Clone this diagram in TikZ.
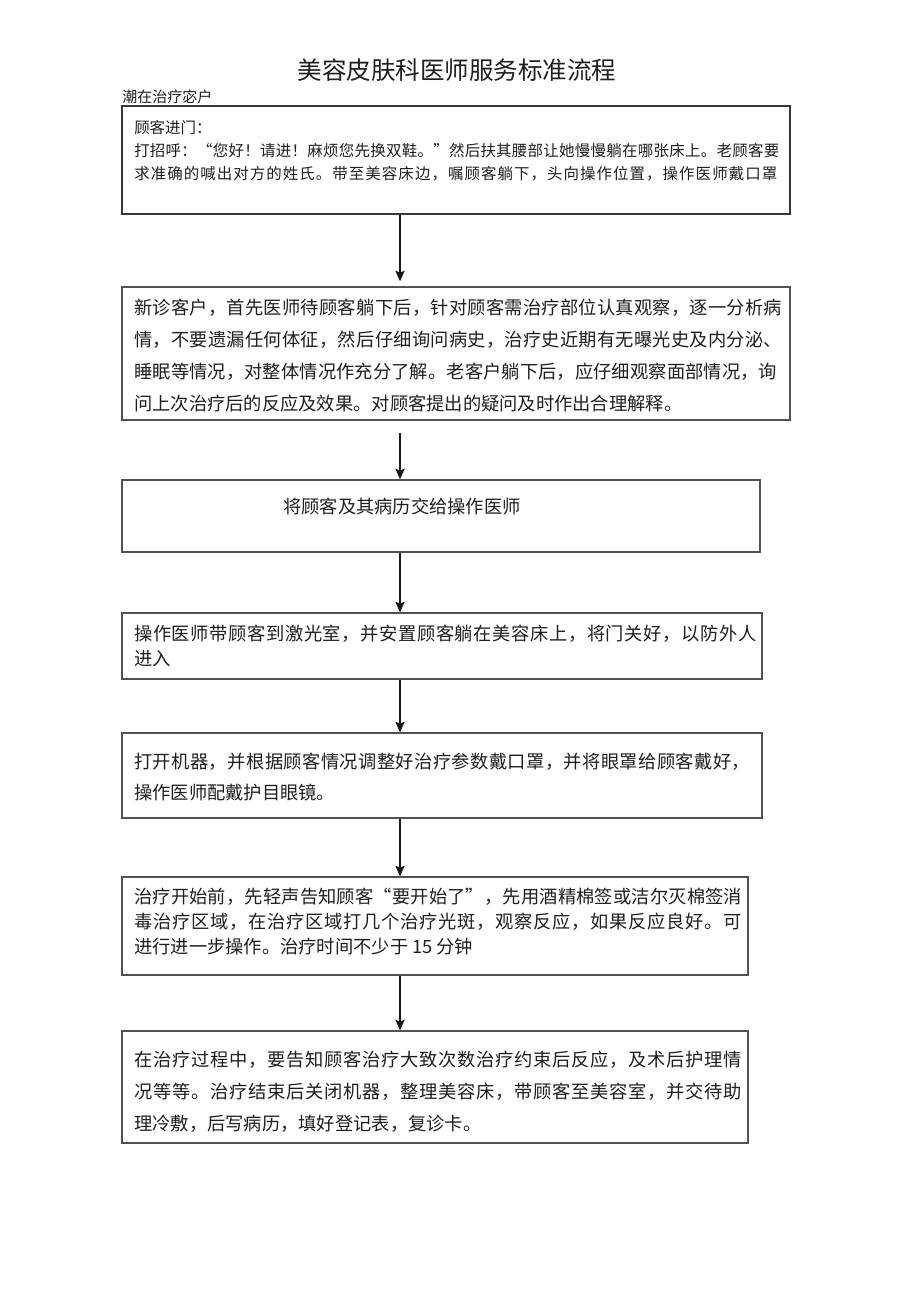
\documentclass[tikz,border=0pt]{standalone}
\usepackage{fontspec}
\newfontfamily\cjk{Noto Sans CJK SC}
\usetikzlibrary{arrows.meta,fit,calc}
\makeatletter
\def\jl@end{\jl@end@}
\def\jl@loop#1#2{#1\ifx\jl@end#2\else\hskip 0pt plus 1fil\relax\expandafter\jl@loop\expandafter#2\fi}
\newcommand\jline[2]{\hbox to #1{\jl@loop#2\jl@end}}
\makeatother
\tikzset{
  box/.style={draw=black!68, line width=1pt, inner sep=0pt},
  boxA/.style={draw=black!78, line width=1.4pt, inner sep=0pt},
  txt/.style={anchor=base west, inner sep=0pt, text=black!88},
  body/.style={font=\cjk\fontsize{13.7pt}{16pt}\selectfont},
  smallbody/.style={font=\cjk\fontsize{11.6pt}{14pt}\selectfont},
  arr/.style={-{Stealth[length=8pt,width=7pt,inset=1.5pt]}, line width=1pt, draw=black!90},
}
\begin{document}
\begin{tikzpicture}[x=0.75pt,y=-0.75pt]
\useasboundingbox (0,0) rectangle (920,1301);
\fill[white] (0,0) rectangle (920,1301);
\coordinate (ax) at (400,0);

% title and label
\node[anchor=base, inner sep=0pt, text=black!88, font=\cjk\fontsize{18.4pt}{20pt}\selectfont] (title) at (457,79.3) {美容皮肤科医师服务标准流程};
\node[txt, font=\cjk\fontsize{11.25pt}{13pt}\selectfont] (label) at (122,102.7) {潮在治疗宓户};

% boxes
\node[boxA, fit={(122,106) (790,214)}] (b1) {};
\node[box, fit={(122,287) (790,420)}] (b2) {};
\node[box, fit={(122,480) (760,552)}] (b3) {};
\node[box, fit={(122,613) (762,679)}] (b4) {};
\node[box, fit={(122,733) (762,818)}] (b5) {};
\node[box, fit={(122,877) (748,975)}] (b6) {};
\node[box, fit={(122,1031) (748,1143)}] (b7) {};

% box 1 text
\node[txt, smallbody] (t1a) at (134,133.1) {顾客进门：};
\node[txt, smallbody] (t1b) at (134,156.1) {\jline{483.75pt}{打招呼：“您好！请进！麻烦您先换双鞋。”然后扶其腰部让她慢慢躺在哪张床上。老顾客要}};
\node[txt, smallbody] (t1c) at (134,179.1) {\jline{482.25pt}{求准确的喊出对方的姓氏。带至美容床边，嘱顾客躺下，头向操作位置，操作医师戴口罩}};

% box 2 text
\node[txt, body] (t2a) at (134,315) {\jline{486pt}{新诊客户，首先医师待顾客躺下后，针对顾客需治疗部位认真观察，逐一分析病}};
\node[txt, body] (t2b) at (134,347) {\jline{486pt}{情，不要遗漏任何体征，然后仔细询问病史，治疗史近期有无曝光史及内分泌、}};
\node[txt, body] (t2c) at (134,378.5) {\jline{482.25pt}{睡眠等情况，对整体情况作充分了解。老客户躺下后，应仔细观察面部情况，询}};
\node[txt, body] (t2d) at (134,410) {问上次治疗后的反应及效果。对顾客提出的疑问及时作出合理解释。};

% box 3 text
\node[txt, body] (t3a) at (283,513) {将顾客及其病历交给操作医师};

% box 4 text
\node[txt, body] (t4a) at (134,640) {\jline{466.5pt}{操作医师带顾客到激光室，并安置顾客躺在美容床上，将门关好，以防外人}};
\node[txt, body] (t4b) at (134,665) {进入};

% box 5 text
\node[txt, body] (t5a) at (134,768) {\jline{462pt}{打开机器，并根据顾客情况调整好治疗参数戴口罩，并将眼罩给顾客戴好，}};
\node[txt, body] (t5b) at (134,799) {操作医师配戴护目眼镜。};

% box 6 text
\node[txt, body] (t6a) at (134,903) {\jline{456pt}{治疗开始前，先轻声告知顾客“要开始了”，先用酒精棉签或洁尔灭棉签消}};
\node[txt, body] (t6b) at (134,928.5) {\jline{456pt}{毒治疗区域，在治疗区域打几个治疗光斑，观察反应，如果反应良好。可}};
\node[txt, body] (t6c) at (134,953) {进行进一步操作。治疗时间不少于 15 分钟};

% box 7 text
\node[txt, body] (t7a) at (134,1066) {\jline{456pt}{在治疗过程中，要告知顾客治疗大致次数治疗约束后反应，及术后护理情}};
\node[txt, body] (t7b) at (134,1098) {\jline{456pt}{况等等。治疗结束后关闭机器，整理美容床，带顾客至美容室，并交待助}};
\node[txt, body] (t7c) at (134,1130) {理冷敷，后写病历，填好登记表，复诊卡。};

% connectors
\draw[arr] (b1.south -| ax) -- ($(b2.north -| ax)+(0,-5)$);
\draw[arr] ($(b2.south -| ax)+(0,12)$) -- (b3.north -| ax);
\draw[arr] (b3.south -| ax) -- (b4.north -| ax);
\draw[arr] (b4.south -| ax) -- (b5.north -| ax);
\draw[arr] (b5.south -| ax) -- (b6.north -| ax);
\draw[arr] (b6.south -| ax) -- (b7.north -| ax);
\end{tikzpicture}
\end{document}
